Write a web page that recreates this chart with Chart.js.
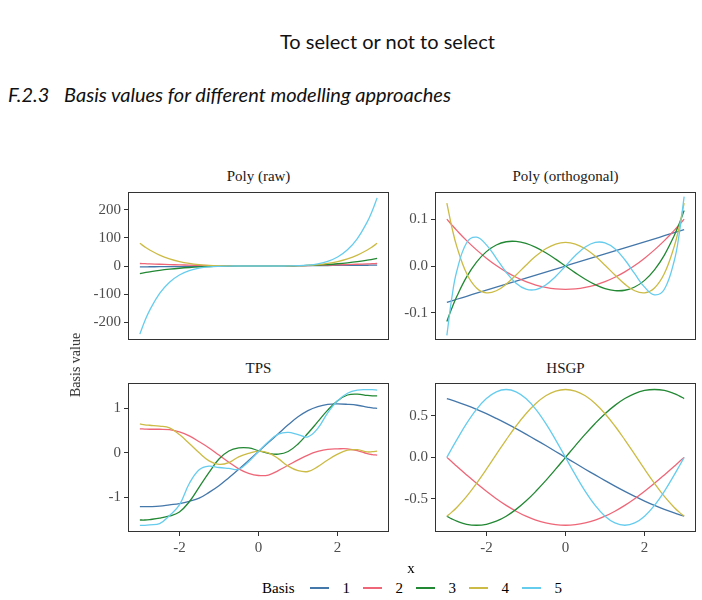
<!DOCTYPE html>
<html>
<head>
  <title>Basis values for different modelling approaches</title>
  <meta charset="UTF-8">
  <script src="https://cdn.jsdelivr.net/npm/chart.js"></script>
  <style>
    body {
      margin: 0;
      width: 702px;
      height: 600px;
      overflow: hidden;
      position: relative;
      background: #fff;
      font-family: "Liberation Serif", "DejaVu Serif", serif;
    }
    .page-title {
      position: absolute;
      left: 280px;
      top: 29px;
      font-family: Lato, "Open Sans", sans-serif;
      font-size: 20px;
      color: #111;
      white-space: nowrap;
    }
    .section {
      position: absolute;
      left: 8px;
      top: 82px;
      font-family: Lato, "Open Sans", sans-serif;
      font-style: italic;
      font-size: 20px;
      color: #111;
      white-space: nowrap;
    }
    .section .num { display: inline-block; width: 56px; }
    canvas { position: absolute; }
    .strip {
      position: absolute;
      text-align: center;
      font-size: 15px;
      line-height: 17px;
      color: #1a1a1a;
    }
    .ylab {
      position: absolute;
      left: 76px;
      top: 365px;
      transform: translate(-50%, -50%) rotate(-90deg);
      font-size: 14px;
      font-weight: normal;
      white-space: nowrap;
      color: #2a2a2a;
    }
    .xlab {
      position: absolute;
      left: 411px;
      top: 568px;
      transform: translate(-50%, -50%);
      font-size: 15px;
      color: #000;
    }
    .legend {
      position: absolute;
      left: 262px;
      top: 579px;
      display: flex;
      align-items: center;
      font-size: 15px;
      line-height: 18px;
      color: #000;
    }
    .legend .key { display: inline-block; width: 19px; height: 1.5px; }
    .legend .lab { display: inline-block; margin-left: 14px; width: 8px; margin-right: 12px; }
  </style>
</head>
<body>
  <div class="page-title">To select or not to select</div>
  <div class="section"><span class="num">F.2.3</span>Basis values for different modelling approaches</div>

  <div class="strip" style="left:128px; top:168px; width:261px;">Poly (raw)</div>
  <div class="strip" style="left:435px; top:168px; width:261px;">Poly (orthogonal)</div>
  <div class="strip" style="left:128px; top:360px; width:261px;">TPS</div>
  <div class="strip" style="left:435px; top:360px; width:261px;">HSGP</div>

  <canvas id="rawChart" width="336" height="160" style="left:60px; top:186px;"></canvas>
  <canvas id="orthChart" width="327" height="160" style="left:375px; top:186px;"></canvas>
  <canvas id="tpsChart" width="336" height="181" style="left:60px; top:377px;"></canvas>
  <canvas id="hsgpChart" width="327" height="181" style="left:375px; top:377px;"></canvas>

  <div class="ylab">Basis value</div>
  <div class="xlab">x</div>
  <div class="legend" id="legend"><span style="margin-right:15px;">Basis</span></div>

  <script>
    // x grid shared by every panel
    const xs = [-3, -2.875, -2.75, -2.5, -2.25, -2, -1.75, -1.5, -1.25, -1, -0.75, -0.5, -0.25, 0,
                0.25, 0.5, 0.75, 1, 1.25, 1.5, 1.75, 2, 2.25, 2.5, 2.75, 2.875, 3];

    const basisNames = ['1', '2', '3', '4', '5'];
    const basisColors = ['#4477AA', '#EE6677', '#228833', '#CCBB44', '#66CCEE'];

    // Poly (raw)
    const raw1 = [-3, -2.875, -2.75, -2.5, -2.25, -2, -1.75, -1.5, -1.25, -1, -0.75, -0.5, -0.25, 0,
                  0.25, 0.5, 0.75, 1, 1.25, 1.5, 1.75, 2, 2.25, 2.5, 2.75, 2.875, 3];
    const raw2 = [9, 8.27, 7.56, 6.25, 5.06, 4, 3.06, 2.25, 1.56, 1, 0.56, 0.25, 0.06, 0,
                  0.06, 0.25, 0.56, 1, 1.56, 2.25, 3.06, 4, 5.06, 6.25, 7.56, 8.27, 9];
    const raw3 = [-27, -23.8, -20.8, -15.6, -11.4, -8, -5.36, -3.38, -1.95, -1, -0.42, -0.13, -0.02, 0,
                  0.02, 0.13, 0.42, 1, 1.95, 3.38, 5.36, 8, 11.4, 15.6, 20.8, 23.8, 27];
    const raw4 = [81, 68.3, 57.2, 39.1, 25.6, 16, 9.38, 5.06, 2.44, 1, 0.32, 0.06, 0, 0,
                  0, 0.06, 0.32, 1, 2.44, 5.06, 9.38, 16, 25.6, 39.1, 57.2, 68.3, 81];
    const raw5 = [-243, -196.4, -157.3, -97.7, -57.7, -32, -16.4, -7.59, -3.05, -1, -0.24, -0.03, 0, 0,
                  0, 0.03, 0.24, 1, 3.05, 7.59, 16.4, 32, 57.7, 97.7, 157.3, 196.4, 243];

    // Poly (orthogonal)
    const orth1 = [-0.0775, -0.0743, -0.071, -0.0646, -0.0581, -0.0517, -0.0452, -0.0388, -0.0323, -0.0258, -0.0194, -0.0129, -0.0065, 0,
                   0.0065, 0.0129, 0.0194, 0.0258, 0.0323, 0.0388, 0.0452, 0.0517, 0.0581, 0.0646, 0.071, 0.0743, 0.0775];
    const orth2 = [0.1, 0.0878, 0.0761, 0.0542, 0.0344, 0.0167, 0.001, -0.0125, -0.024, -0.0333, -0.0406, -0.0458, -0.049, -0.05,
                   -0.049, -0.0458, -0.0406, -0.0333, -0.024, -0.0125, 0.001, 0.0167, 0.0344, 0.0542, 0.0761, 0.0878, 0.1];
    const orth3 = [-0.1183, -0.0902, -0.0651, -0.0233, 0.0083, 0.0307, 0.0448, 0.0518, 0.0525, 0.0482, 0.0397, 0.0282, 0.0146, 0,
                   -0.0146, -0.0282, -0.0397, -0.0482, -0.0525, -0.0518, -0.0448, -0.0307, -0.0083, 0.0233, 0.0651, 0.0902, 0.1183];
    const orth4 = [0.134, 0.0832, 0.042, -0.016, -0.0469, -0.0573, -0.0529, -0.0387, -0.0193, 0.0017, 0.0211, 0.0367, 0.0468, 0.0503,
                   0.0468, 0.0367, 0.0211, 0.0017, -0.0193, -0.0387, -0.0529, -0.0573, -0.0469, -0.016, 0.042, 0.0832, 0.134];
    const orth5 = [-0.148, -0.0682, -0.0113, 0.0497, 0.0616, 0.0452, 0.0165, -0.0133, -0.0366, -0.0493, -0.0503, -0.0404, -0.0224, 0,
                   0.0224, 0.0404, 0.0503, 0.0493, 0.0366, 0.0133, -0.0165, -0.0452, -0.0616, -0.0497, 0.0113, 0.0682, 0.148];

    // TPS
    const tps1 = [-1.21, -1.21, -1.21, -1.2, -1.17, -1.14, -1.09, -1.02, -0.89, -0.74, -0.56, -0.37, -0.17, 0.03,
                  0.23, 0.43, 0.63, 0.81, 0.95, 1.04, 1.09, 1.1, 1.09, 1.07, 1.03, 1.01, 1.0];
    const tps2 = [0.54, 0.535, 0.53, 0.53, 0.52, 0.47, 0.38, 0.25, 0.11, -0.05, -0.21, -0.36, -0.46, -0.51,
                  -0.5, -0.4, -0.28, -0.16, -0.05, 0.03, 0.08, 0.09, 0.09, 0.05, -0.02, -0.04, -0.05];
    const tps3 = [-1.51, -1.51, -1.5, -1.47, -1.42, -1.33, -1.1, -0.77, -0.44, -0.14, 0.04, 0.11, 0.11, 0.05,
                  -0.01, -0.03, 0.03, 0.2, 0.44, 0.7, 0.96, 1.17, 1.3, 1.32, 1.29, 1.28, 1.28];
    const tps4 = [0.65, 0.63, 0.62, 0.6, 0.56, 0.41, 0.21, 0.0, -0.18, -0.26, -0.22, -0.09, -0.01, 0.04,
                  0.0, -0.13, -0.3, -0.4, -0.42, -0.31, -0.16, -0.03, 0.06, 0.07, 0.02, 0.025, 0.04];
    const tps5 = [-1.63, -1.63, -1.62, -1.59, -1.41, -1.17, -0.69, -0.38, -0.3, -0.33, -0.35, -0.37, -0.2, 0.03,
                  0.25, 0.42, 0.46, 0.41, 0.36, 0.55, 0.9, 1.17, 1.34, 1.41, 1.42, 1.42, 1.41];

    // HSGP
    const hsgp1 = [0.707, 0.688, 0.668, 0.625, 0.577, 0.525, 0.468, 0.408, 0.345, 0.279, 0.211, 0.142, 0.071, 0,
                   -0.071, -0.142, -0.211, -0.279, -0.345, -0.408, -0.468, -0.525, -0.577, -0.625, -0.668, -0.688, -0.707];
    const hsgp2 = [0, -0.053, -0.107, -0.211, -0.312, -0.408, -0.497, -0.577, -0.647, -0.707, -0.754, -0.788, -0.809, -0.816,
                   -0.809, -0.788, -0.754, -0.707, -0.647, -0.577, -0.497, -0.408, -0.312, -0.211, -0.107, -0.053, 0];
    const hsgp3 = [-0.707, -0.74, -0.767, -0.804, -0.816, -0.804, -0.767, -0.707, -0.625, -0.525, -0.408, -0.279, -0.142, 0,
                   0.142, 0.279, 0.408, 0.525, 0.625, 0.707, 0.767, 0.804, 0.816, 0.804, 0.767, 0.74, 0.707];
    const hsgp4 = [-0.707, -0.658, -0.602, -0.468, -0.312, -0.142, 0.036, 0.211, 0.377, 0.525, 0.647, 0.74, 0.797, 0.816,
                   0.797, 0.74, 0.647, 0.525, 0.377, 0.211, 0.036, -0.142, -0.312, -0.468, -0.602, -0.658, -0.707];
    const hsgp5 = [0, 0.107, 0.211, 0.408, 0.577, 0.707, 0.788, 0.816, 0.788, 0.707, 0.577, 0.408, 0.211, 0,
                   -0.211, -0.408, -0.577, -0.707, -0.788, -0.816, -0.788, -0.707, -0.577, -0.408, -0.211, -0.107, 0];

    // tick labels
    const xTicks = [-2, 0, 2];
    const rawTicks = [-200, -100, 0, 100, 200];
    const orthTicks = [-0.1, 0.0, 0.1];
    const tpsTicks = [-1, 0, 1];
    const hsgpTicks = [-0.5, 0.0, 0.5];

    Chart.defaults.font.family = '"Liberation Serif", "DejaVu Serif", serif';
    Chart.defaults.font.size = 15;
    Chart.defaults.color = '#4d4d4d';

    // full panel border, like theme_bw
    const panelBox = {
      id: 'panelBox',
      afterDraw(chart) {
        const a = chart.chartArea;
        const ctx = chart.ctx;
        ctx.save();
        ctx.strokeStyle = '#333333';
        ctx.lineWidth = 1;
        ctx.strokeRect(Math.round(a.left) + 0.5, Math.round(a.top) + 0.5,
                       Math.round(a.right - a.left) - 1, Math.round(a.bottom - a.top) - 1);
        ctx.restore();
      }
    };

    function makePanel(id, series, yMin, yMax, yTicks, decimals, showX, yWidth, padRight) {
      const datasets = series.map((ys, i) => ({
        label: basisNames[i],
        data: xs.map((x, j) => ({ x: x, y: ys[j] })),
        borderColor: basisColors[i],
        borderWidth: 1.3,
        pointRadius: 0,
        tension: 0.4,
        fill: false,
        order: series.length - i
      }));

      new Chart(document.getElementById(id).getContext('2d'), {
        type: 'line',
        data: { datasets: datasets },
        options: {
          responsive: false,
          animation: false,
          events: [],
          layout: { padding: { top: 6, right: padRight, bottom: showX ? 0 : 6, left: 0 } },
          plugins: { legend: { display: false }, tooltip: { enabled: false } },
          scales: {
            x: {
              type: 'linear',
              display: showX,
              min: -3.3,
              max: 3.3,
              afterBuildTicks: s => { s.ticks = xTicks.map(v => ({ value: v })); },
              afterFit: s => { s.height = showX ? 26 : 0; s.paddingLeft = 0; s.paddingRight = 0; },
              grid: { drawOnChartArea: false, drawTicks: true, tickLength: 4, color: '#333333' },
              border: { display: false },
              ticks: { padding: 3, autoSkip: false, maxRotation: 0, callback: v => String(v) }
            },
            y: {
              type: 'linear',
              min: yMin,
              max: yMax,
              afterBuildTicks: s => { s.ticks = yTicks.map(v => ({ value: v })); },
              afterFit: s => { s.width = yWidth; s.paddingTop = 0; s.paddingBottom = 0; },
              grid: { drawOnChartArea: false, drawTicks: true, tickLength: 4, color: '#333333' },
              border: { display: false },
              ticks: { padding: 3, autoSkip: false, callback: v => Number(v).toFixed(decimals) }
            }
          }
        },
        plugins: [panelBox]
      });
    }

    window.addEventListener('load', function() {
      makePanel('rawChart', [raw1, raw2, raw3, raw4, raw5], -264, 264, rawTicks, 0, false, 68, 7);
      makePanel('orthChart', [orth1, orth2, orth3, orth4, orth5], -0.158, 0.158, orthTicks, 1, false, 60, 6);
      makePanel('tpsChart', [tps1, tps2, tps3, tps4, tps5], -1.78, 1.57, tpsTicks, 0, true, 68, 7);
      makePanel('hsgpChart', [hsgp1, hsgp2, hsgp3, hsgp4, hsgp5], -0.897, 0.894, hsgpTicks, 1, true, 60, 6);

      // legend from the series names and colours
      const legend = document.getElementById('legend');
      basisNames.forEach((name, i) => {
        const key = document.createElement('span');
        key.className = 'key';
        key.style.background = basisColors[i];
        const lab = document.createElement('span');
        lab.className = 'lab';
        lab.textContent = name;
        legend.appendChild(key);
        legend.appendChild(lab);
      });
    });
  </script>
</body>
</html>
